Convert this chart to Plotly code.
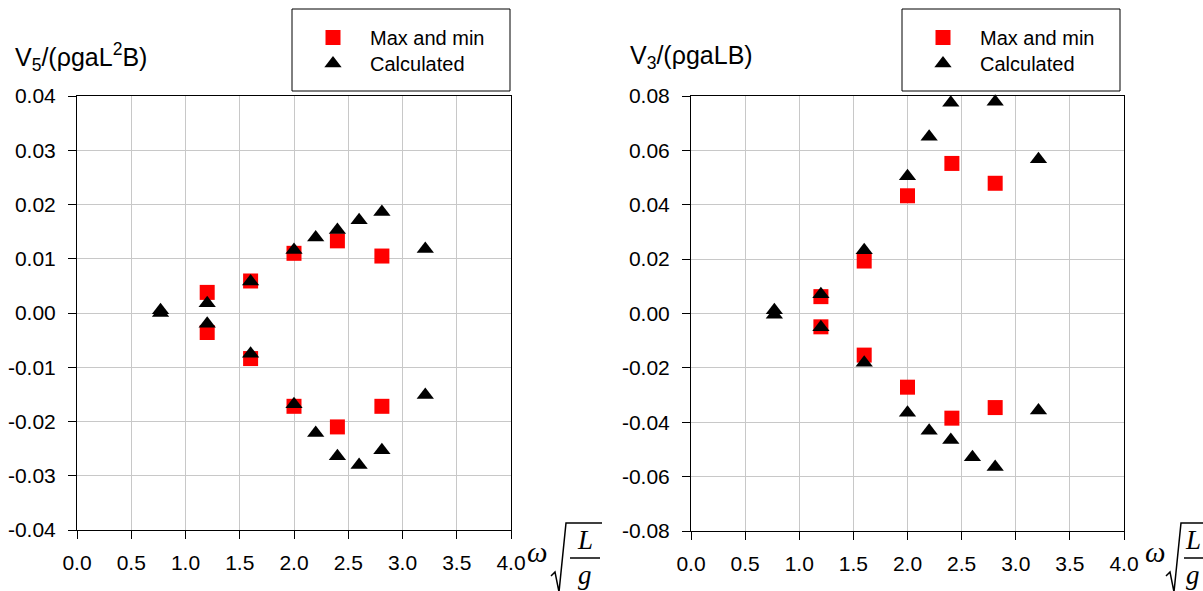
import plotly.graph_objects as go

W, H = 1203, 591

# ---------------- data ----------------
x_ticks = [0.0, 0.5, 1.0, 1.5, 2.0, 2.5, 3.0, 3.5, 4.0]
x_tick_text = ["0.0", "0.5", "1.0", "1.5", "2.0", "2.5", "3.0", "3.5", "4.0"]

v5_ticks = [-0.04, -0.03, -0.02, -0.01, 0.0, 0.01, 0.02, 0.03, 0.04]
v5_tick_text = ["-0.04", "-0.03", "-0.02", "-0.01", "0.00", "0.01", "0.02", "0.03", "0.04"]
v3_ticks = [-0.08, -0.06, -0.04, -0.02, 0.0, 0.02, 0.04, 0.06, 0.08]
v3_tick_text = ["-0.08", "-0.06", "-0.04", "-0.02", "0.00", "0.02", "0.04", "0.06", "0.08"]

# V5 (left)
v5_maxmin_x = [1.2, 1.2, 1.6, 1.6, 2.0, 2.0, 2.4, 2.4, 2.81, 2.81]
v5_maxmin_y = [0.0038, -0.0036, 0.0059, -0.0084, 0.0110, -0.0172, 0.0133, -0.0210, 0.0105, -0.0172]
v5_calc_x = [0.77, 0.77, 1.2, 1.2, 1.6, 1.6, 2.0, 2.0, 2.2, 2.2, 2.4, 2.4, 2.6, 2.6, 2.81, 2.81, 3.21, 3.21]
v5_calc_y = [0.0005, 0.0, 0.0018, -0.0020, 0.0058, -0.0075, 0.0116, -0.0168, 0.0139, -0.0221,
             0.0153, -0.0264, 0.0171, -0.0280, 0.0186, -0.0253, 0.0118, -0.0151]

# V3 (right)
v3_maxmin_x = [1.2, 1.2, 1.6, 1.6, 2.0, 2.0, 2.41, 2.41, 2.81, 2.81]
v3_maxmin_y = [0.0062, -0.0049, 0.0193, -0.0153, 0.0433, -0.0271, 0.0552, -0.0385, 0.0479, -0.0346]
v3_calc_x = [0.77, 0.77, 1.2, 1.2, 1.6, 1.6, 2.0, 2.0, 2.2, 2.2, 2.4, 2.4, 2.6, 2.81, 2.81, 3.21, 3.21]
v3_calc_y = [0.0012, -0.0005, 0.0071, -0.0051, 0.0233, -0.0181, 0.0505, -0.0365, 0.0650, -0.0431,
             0.0775, -0.0465, -0.0529, 0.0779, -0.0565, 0.0567, -0.0357]

series_names = ["Max and min", "Calculated"]

# ---------------- helpers ----------------
def px(x):
    return x / W

def py(y):
    return 1 - y / H

FONT = "Liberation Sans, Arial, sans-serif"
SERIF = "Liberation Serif, Times New Roman, serif"

fig = go.Figure()

sq = dict(symbol="square", size=15, color="#ff0000", line=dict(width=0))
tri = dict(symbol="triangle-up", size=15, color="#000000", line=dict(width=0))

fig.add_trace(go.Scatter(x=v5_maxmin_x, y=v5_maxmin_y, mode="markers", marker=sq,
                         name=series_names[0], xaxis="x", yaxis="y", legend="legend", cliponaxis=False))
fig.add_trace(go.Scatter(x=v5_calc_x, y=v5_calc_y, mode="markers", marker=tri,
                         name=series_names[1], xaxis="x", yaxis="y", legend="legend3", cliponaxis=False))
fig.add_trace(go.Scatter(x=v3_maxmin_x, y=v3_maxmin_y, mode="markers", marker=sq,
                         name=series_names[0], xaxis="x2", yaxis="y2", legend="legend2", cliponaxis=False))
fig.add_trace(go.Scatter(x=v3_calc_x, y=v3_calc_y, mode="markers", marker=tri,
                         name=series_names[1], xaxis="x2", yaxis="y2", legend="legend4", cliponaxis=False))

axis_common = dict(
    showline=True, linecolor="#000000", linewidth=1, mirror=True,
    showgrid=True, gridcolor="#c8c8c8", gridwidth=1, automargin=False,
    zeroline=False, ticks="outside", ticklen=8, tickcolor="#000000", tickwidth=1,
    tickfont=dict(family=FONT, size=21, color="#000000"),
)

xdom_l = [px(77), px(511)]
xdom_r = [px(691), px(1124)]
ydom_l = [py(530), py(96)]
ydom_r = [py(531), py(96)]

def leg(xpix, ypix):
    return dict(x=px(xpix), y=py(ypix), xanchor="left", yanchor="top",
                bgcolor="rgba(0,0,0,0)", borderwidth=0, itemwidth=64,
                font=dict(family=FONT, size=20, color="#000000"))

fig.update_layout(
    template="none",
    width=W, height=H,
    margin=dict(l=0, r=0, t=0, b=0, pad=0, autoexpand=False),
    paper_bgcolor="white", plot_bgcolor="white",
    showlegend=True,
    xaxis=dict(axis_common, domain=xdom_l, range=[0, 4], tickmode="array",
               tickvals=x_ticks, ticktext=x_tick_text, anchor="y", ticklabelstandoff=6),
    yaxis=dict(axis_common, domain=ydom_l, range=[-0.04, 0.04], tickmode="array",
               tickvals=v5_ticks, ticktext=v5_tick_text, anchor="x", ticklabelstandoff=8),
    xaxis2=dict(axis_common, domain=xdom_r, range=[0, 4], tickmode="array",
                tickvals=x_ticks, ticktext=x_tick_text, anchor="y2", ticklabelstandoff=6),
    yaxis2=dict(axis_common, domain=ydom_r, range=[-0.08, 0.08], tickmode="array",
                tickvals=v3_ticks, ticktext=v3_tick_text, anchor="x2", ticklabelstandoff=8),
    legend=leg(296, 18),
    legend3=leg(296, 44),
    legend2=leg(906, 18),
    legend4=leg(906, 44),
)

shapes = []
# legend boxes
for (x0, x1) in [(292, 510), (902, 1120)]:
    shapes.append(dict(type="rect", xref="paper", yref="paper",
                       x0=px(x0), x1=px(x1), y0=py(91), y1=py(9),
                       line=dict(color="#000000", width=1), fillcolor="rgba(0,0,0,0)", layer="below"))

# radical signs and fraction bars for omega*sqrt(L/g)
def radical(x0, xend):
    pts = [(x0 - 5, 576), (x0 - 1, 572), (x0 + 3, 592), (x0 + 10, 523), (xend, 523)]
    path = "M " + " L ".join(f"{px(a):.5f},{py(b):.5f}" for a, b in pts)
    return dict(type="path", xref="paper", yref="paper", path=path,
                line=dict(color="#000000", width=1.5))

shapes.append(radical(556, 602))
shapes.append(radical(1171, 1205))
shapes.append(dict(type="line", xref="paper", yref="paper", x0=px(570), x1=px(600),
                   y0=py(558), y1=py(558), line=dict(color="#000000", width=1.5)))
shapes.append(dict(type="line", xref="paper", yref="paper", x0=px(1184), x1=px(1203),
                   y0=py(558), y1=py(558), line=dict(color="#000000", width=1.5)))

annotations = []
# y-axis titles
annotations.append(dict(xref="paper", yref="paper", x=px(13), y=py(57), xanchor="left", yanchor="middle",
                        text="V<sub>5</sub>/(ρgaL<sup>2</sup>B)", showarrow=False,
                        font=dict(family=FONT, size=25, color="#000000")))
annotations.append(dict(xref="paper", yref="paper", x=px(628), y=py(57), xanchor="left", yanchor="middle",
                        text="V<sub>3</sub>/(ρgaLB)", showarrow=False,
                        font=dict(family=FONT, size=25, color="#000000")))
# omega, L, g
for (xo, xl) in [(537, 585), (1155, 1193)]:
    annotations.append(dict(xref="paper", yref="paper", x=px(xo), y=py(552), xanchor="center", yanchor="middle",
                            text="<i>ω</i>", showarrow=False,
                            font=dict(family=SERIF, size=29, color="#000000")))
    annotations.append(dict(xref="paper", yref="paper", x=px(xl), y=py(540), xanchor="center", yanchor="middle",
                            text="<i>L</i>", showarrow=False,
                            font=dict(family=SERIF, size=27, color="#000000")))
    annotations.append(dict(xref="paper", yref="paper", x=px(xl), y=py(575), xanchor="center", yanchor="middle",
                            text="<i>g</i>", showarrow=False,
                            font=dict(family=SERIF, size=27, color="#000000")))

fig.update_layout(shapes=shapes, annotations=annotations)

fig.write_html("out.html")
